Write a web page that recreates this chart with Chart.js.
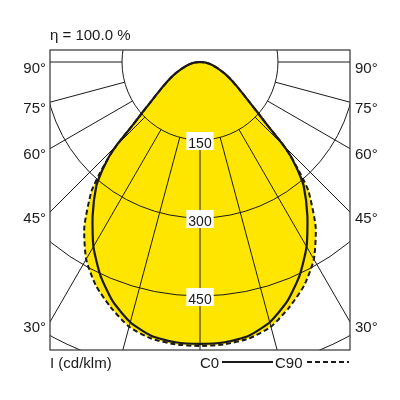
<!DOCTYPE html>
<html>
<head>
<meta charset="utf-8">
<script src="https://cdn.jsdelivr.net/npm/chart.js@4.4.0/dist/chart.umd.min.js"></script>
<style>
  html, body { margin: 0; padding: 0; background: #fff; }
  #wrap { width: 400px; height: 400px; }
</style>
</head>
<body>
<div id="wrap"><canvas id="ldc"></canvas></div>
<script>
// =====================
// DATA (angle from nadir in degrees, intensity in cd/klm)
// =====================
const angles = [0, 5, 10, 15, 20, 25, 30, 35, 40, 42, 43, 44, 45, 46, 47, 48, 49, 50, 53, 56, 60, 65, 70, 75, 80, 85, 90];
const c0  = [542, 541, 535, 518, 490, 453, 410, 360, 310, 282, 266, 250, 228, 198, 175, 158, 145, 132, 106, 88, 70, 52, 37, 26, 17, 9, 0];
const c90 = [546, 545, 540, 527, 502, 474, 438, 388, 325, 288, 268, 250, 228, 198, 175, 158, 145, 132, 106, 88, 70, 52, 37, 26, 17, 9, 0];

const rings = [150, 300, 450, 600];
const ringLabels = ["150", "300", "450"];
const spokes = [0, 15, 30, 45, 60, 75, 90];
const sideAngles = [90, 75, 60, 45, 30];
const sideLabels = ["90°", "75°", "60°", "45°", "30°"];

const FONT = "'Liberation Sans', Arial, sans-serif";
const INK = "#1a1a1a";
const YELLOW = "#ffe600";

// polar (both halves, symmetric) -> x/y in cd/klm
function toXY(values) {
  const pts = [];
  for (let i = angles.length - 1; i >= 0; i--) {
    const a = angles[i] * Math.PI / 180;
    pts.push({ x: -values[i] * Math.sin(a), y: -values[i] * Math.cos(a) });
  }
  for (let i = 1; i < angles.length; i++) {
    const a = angles[i] * Math.PI / 180;
    pts.push({ x: values[i] * Math.sin(a), y: -values[i] * Math.cos(a) });
  }
  return pts;
}

// =====================
// FILL + GRID (rings + spokes) + LABELS
// =====================
const polarGrid = {
  id: "polarGrid",
  beforeDatasetsDraw(chart) {
    const { ctx, chartArea: a, scales: { x, y } } = chart;
    const cx = x.getPixelForValue(0);
    ctx.save();
    ctx.beginPath();
    ctx.rect(a.left, a.top, a.width, a.height);
    ctx.clip();

    // yellow area inside the outer (C90) curve
    const line = chart.getDatasetMeta(1).dataset;
    line.updateControlPoints(a, "x");
    ctx.beginPath();
    line.path(ctx);
    ctx.closePath();
    ctx.fillStyle = YELLOW;
    ctx.fill();

    ctx.strokeStyle = INK;
    ctx.lineWidth = 1;
    rings.forEach(r => {
      ctx.beginPath();
      ctx.arc(cx, y.getPixelForValue(0), x.getPixelForValue(r) - cx, 0, Math.PI * 2);
      ctx.stroke();
    });
    const r0 = rings[0], far = 2000;
    spokes.forEach(d => {
      const t = d * Math.PI / 180;
      const sides = d === 0 ? [1] : [-1, 1];
      sides.forEach(s => {
        ctx.beginPath();
        ctx.moveTo(x.getPixelForValue(s * r0 * Math.sin(t)), y.getPixelForValue(-r0 * Math.cos(t)));
        ctx.lineTo(x.getPixelForValue(s * far * Math.sin(t)), y.getPixelForValue(-far * Math.cos(t)));
        ctx.stroke();
      });
    });
    ctx.restore();
  },
  afterDatasetsDraw(chart) {
    const { ctx, scales: { x, y } } = chart;
    const cx = x.getPixelForValue(0);
    ctx.save();
    ctx.font = "14px " + FONT;
    ctx.textAlign = "center";
    ctx.textBaseline = "alphabetic";
    ringLabels.forEach((txt, i) => {
      const py = y.getPixelForValue(-rings[i]);
      const w = ctx.measureText(txt).width + 4;
      ctx.fillStyle = "#fff";
      ctx.fillRect(cx - w / 2, py - 8, w, 18);
      ctx.fillStyle = INK;
      ctx.fillText(txt, cx, py + 8);
    });
    ctx.restore();
  },
  afterDraw(chart) {
    const { ctx, chartArea: a, scales: { x, y } } = chart;
    ctx.save();
    // frame
    ctx.strokeStyle = "#333";
    ctx.lineWidth = 1.2;
    ctx.strokeRect(a.left, a.top, a.width, a.height);

    ctx.fillStyle = INK;
    ctx.font = "15px " + FONT;
    ctx.textBaseline = "alphabetic";

    // degree labels where the spokes meet the frame
    const half = x.max;
    sideAngles.forEach((d, i) => {
      const t = d * Math.PI / 180;
      const yv = d === 90 ? 0 : -half / Math.tan(t);
      const py = y.getPixelForValue(yv) + 10.5;
      ctx.textAlign = "right";
      ctx.fillText(sideLabels[i], a.left - 4, py);
      ctx.textAlign = "left";
      ctx.fillText(sideLabels[i], a.right + 5, py);
    });

    ctx.textAlign = "left";
    ctx.fillText("η = 100.0 %", a.left, 40);
    ctx.fillText("I (cd/klm)", a.left, 368);
    ctx.fillText("C0", 200, 368);
    ctx.fillText("C90", 275, 368);

    ctx.strokeStyle = INK;
    ctx.lineWidth = 2;
    ctx.beginPath();
    ctx.moveTo(222, 362); ctx.lineTo(273, 362);
    ctx.stroke();
    ctx.setLineDash([5, 3]);
    ctx.beginPath();
    ctx.moveTo(307, 362); ctx.lineTo(349, 362);
    ctx.stroke();
    ctx.restore();
  }
};

// =====================
// CHART
// =====================
new Chart(document.getElementById("ldc"), {
  type: "line",
  data: {
    datasets: [
      {
        label: "C0",
        data: toXY(c0),
        borderColor: INK,
        borderWidth: 2.2,
        fill: false,
        tension: 0.2
      },
      {
        label: "C90",
        data: toXY(c90),
        borderColor: INK,
        borderWidth: 2,
        borderDash: [5, 3],
        fill: false,
        tension: 0.2
      }
    ]
  },
  options: {
    responsive: true,
    maintainAspectRatio: false,
    animation: false,
    layout: { padding: { left: 50, right: 50, top: 50, bottom: 50 } },
    elements: { point: { radius: 0 } },
    scales: {
      x: { type: "linear", min: -288.5, max: 288.5, display: false },
      y: { type: "linear", min: -553.8, max: 23.1, display: false }
    },
    plugins: {
      legend: { display: false },
      tooltip: { enabled: false }
    }
  },
  plugins: [polarGrid]
});
</script>
</body>
</html>
